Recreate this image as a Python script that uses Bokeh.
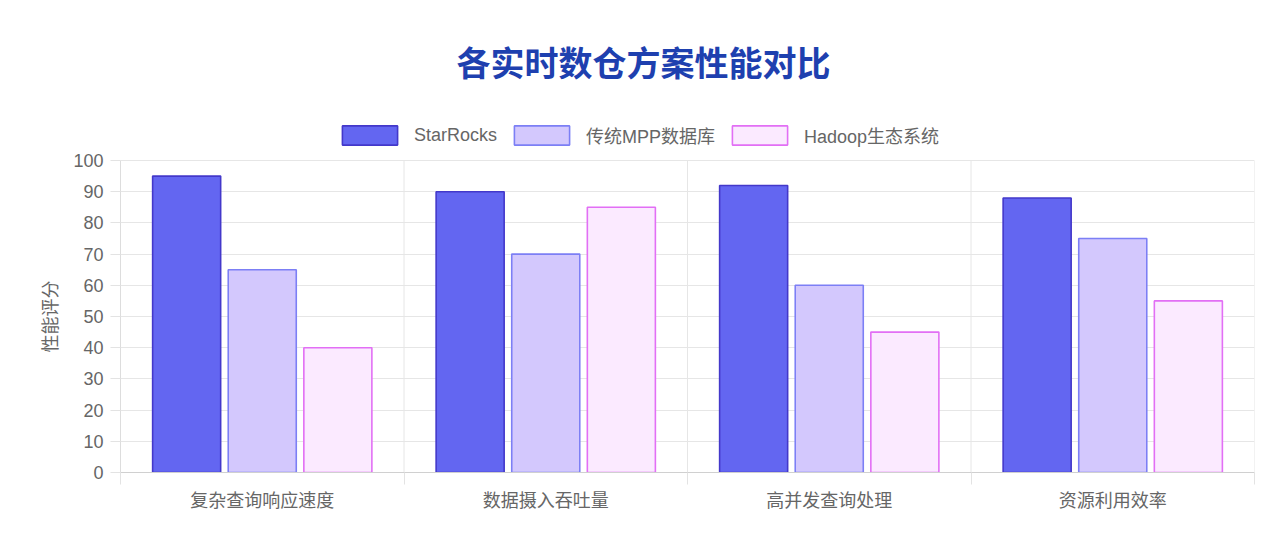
import numpy as np
from bokeh.plotting import figure
from bokeh.models import ColumnDataSource, FixedTicker, Range1d, Legend, LegendItem, Title
from bokeh.transform import dodge
from bokeh.embed import file_html
from bokeh.resources import INLINE

categories = ["复杂查询响应速度", "数据摄入吞吐量", "高并发查询处理", "资源利用效率"]
series_names = ["StarRocks", "传统MPP数据库", "Hadoop生态系统"]
starrocks = [95, 90, 92, 88]
mpp = [65, 70, 60, 75]
hadoop = [40, 85, 45, 55]
y_ticks = list(range(0, 101, 10))

fills = ["#6366f1", "#d3c8fd", "#fbeaff"]
lines = ["#4338ca", "#7c7ff5", "#e26ff5"]

FONT = "'Liberation Sans', Arial, 'Noto Sans CJK SC', sans-serif"
CJK_BOLD = "'Noto Sans CJK SC', sans-serif"

W, H = 1278, 548
FRAME_L, FRAME_R, FRAME_B = 120, 1254, 472
AXIS_TOP_PX = 160      # pixel where y = 100 sits
FRAME_T = 120          # frame extended upward to host the legend
y_max = y_ticks[-1]
y_end = y_max * (FRAME_B - FRAME_T) / (FRAME_B - AXIS_TOP_PX)

n = len(categories)
centers = np.arange(n) + 0.5
bounds_x = np.arange(n + 1)
src = ColumnDataSource(dict(x=centers, s0=starrocks, s1=mpp, s2=hadoop))
grid_src = ColumnDataSource(dict(x=bounds_x, y0=np.zeros(n + 1), y1=np.full(n + 1, y_max)))

p = figure(width=W, height=H, output_backend="svg", toolbar_location=None,
           x_range=Range1d(0, n), y_range=Range1d(0, y_end),
           min_border_left=FRAME_L, min_border_right=W - FRAME_R,
           min_border_top=FRAME_T, min_border_bottom=H - FRAME_B,
           background_fill_color="white", border_fill_color="white",
           outline_line_color=None)

p.title.text = "各实时数仓方案性能对比"
p.title.align = "left"
p.title.offset = 336
p.title.text_font = CJK_BOLD
p.title.text_font_size = "34px"
p.title.text_font_style = "bold"
p.title.text_color = "#1e40af"
p.title.standoff = 69

# vertical category separators (grid at category boundaries)
p.segment(x0="x", x1="x", y0="y0", y1="y1", source=grid_src,
          line_color="#e6e6e6", line_width=1, level="underlay")

offsets = [-0.2667, 0.0, 0.2667]
renderers = []
for i, key in enumerate(["s0", "s1", "s2"]):
    r = p.vbar(x=dodge("x", offsets[i], range=p.x_range), top=key, width=0.24,
               bottom=0, source=src, fill_color=fills[i], line_color=lines[i],
               line_width=1.6)
    renderers.append(r)

legend = Legend(items=[LegendItem(label=series_names[i], renderers=[renderers[i]])
                       for i in range(3)],
                orientation="horizontal", location=(215, 324),
                glyph_width=69, glyph_height=24, label_standoff=10, spacing=10,
                label_text_font=FONT, label_text_font_size="18px",
                label_text_color="#666666", border_line_color=None,
                background_fill_alpha=0, margin=0, padding=0)
p.add_layout(legend, "center")

xa = p.xaxis[0]
xa.ticker = FixedTicker(ticks=list(centers), minor_ticks=list(bounds_x))
xa.major_label_overrides = {float(c): categories[i] for i, c in enumerate(centers)}
xa.major_tick_line_color = None
xa.minor_tick_out = 12
xa.minor_tick_in = 0
xa.minor_tick_line_color = "#e3e3e3"
xa.axis_line_color = "#d0d0d0"
xa.major_label_standoff = 6
xa.major_label_text_font = FONT
xa.major_label_text_font_size = "18px"
xa.major_label_text_color = "#666666"

ya = p.yaxis[0]
ya.ticker = FixedTicker(ticks=y_ticks, minor_ticks=[])
ya.bounds = (0, y_max)
ya.major_tick_out = 10
ya.major_tick_in = 0
ya.major_tick_line_color = "#e3e3e3"
ya.axis_line_color = "#dddddd"
ya.major_label_standoff = 7
ya.major_label_text_font = FONT
ya.major_label_text_font_size = "18px"
ya.major_label_text_color = "#666666"

# y-axis title, centred on the 0-100 span
ytitle = Title(text="性能评分", align="left", offset=120, standoff=20,
               text_font=FONT, text_font_size="18px", text_font_style="normal",
               text_color="#666666")
p.add_layout(ytitle, "left")

p.xgrid.visible = False
p.ygrid.ticker = FixedTicker(ticks=y_ticks)
p.ygrid.grid_line_color = "#e6e6e6"

open("out.html", "w").write(file_html(p, INLINE))
